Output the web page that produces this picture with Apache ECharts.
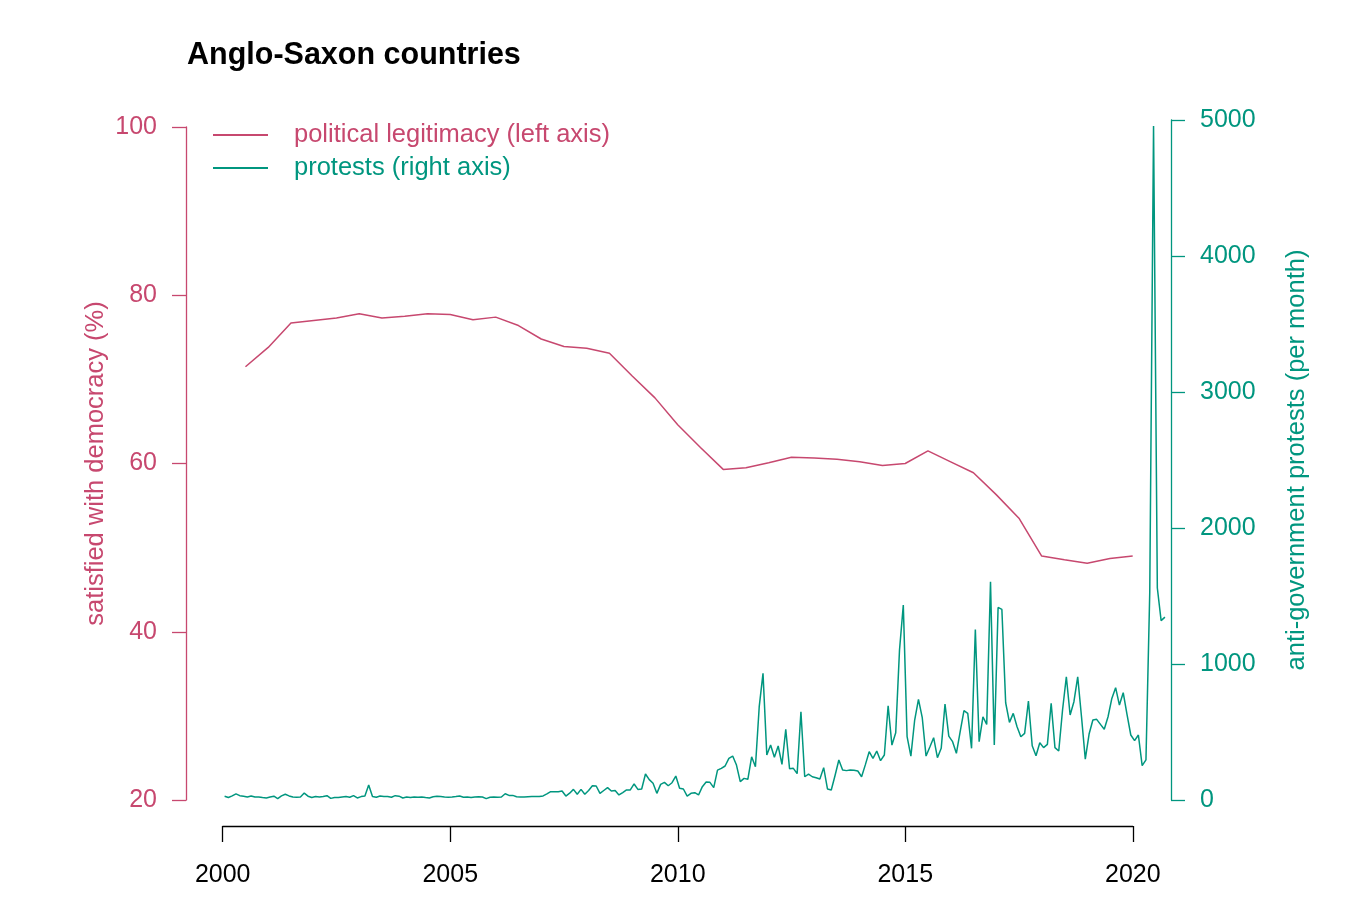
<!DOCTYPE html>
<html>
<head>
<meta charset="utf-8">
<script src="https://cdn.jsdelivr.net/npm/echarts@6/dist/echarts.min.js"></script>
<style>
html,body{margin:0;padding:0;background:#fff;}
#chart{width:1352px;height:902px;}
</style>
</head>
<body>
<div id="chart"></div>
<script>
// ---- data ----
var titleText = 'Anglo-Saxon countries';
var legitimacyYears = [2000.5,2001,2001.5,2002,2002.5,2003,2003.5,2004,2004.5,2005,2005.5,2006,2006.5,2007,2007.5,2008,2008.5,2009,2009.5,2010,2010.5,2011,2011.5,2012,2012.5,2013,2013.5,2014,2014.5,2015,2015.5,2016,2016.5,2017,2017.5,2018,2018.5,2019,2019.5,2020];
var legitimacyValues = [71.5,73.8,76.7,77.0,77.3,77.8,77.3,77.5,77.8,77.7,77.1,77.4,76.4,74.8,73.9,73.7,73.1,70.4,67.8,64.6,61.9,59.3,59.5,60.1,60.75,60.65,60.5,60.2,59.75,60.0,61.5,60.2,58.9,56.3,53.5,49.0,48.55,48.15,48.7,49.0];
var protestStart = {year: 2000, month: 1}; // monthly, Jan 2000 - Sep 2020
var protestValues = [
28,18,30,45,32,28,22,30,22,22,18,15,
22,28,10,30,42,30,22,20,22,51,28,18,
25,22,25,32,12,18,18,22,25,20,32,15,
25,30,110,25,20,30,25,25,20,32,28,15,
22,18,22,20,22,18,15,24,28,25,22,20,
22,25,29,20,22,18,22,24,22,10,20,22,
20,22,46,34,34,24,22,22,24,25,25,25,
30,45,61,60,61,66,29,50,78,42,78,42,
70,105,103,49,70,91,66,69,37,55,74,74,
118,78,81,191,150,123,49,115,130,105,127,176,
86,81,29,49,54,37,98,132,130,91,220,233,
250,306,323,257,135,159,152,318,245,686,931,331,
404,314,397,262,519,230,233,194,649,171,191,171,
164,154,238,81,74,180,294,220,216,220,218,213,
171,260,355,306,360,289,331,693,404,495,1103,1433,
466,323,588,740,605,323,390,458,311,380,706,470,
429,343,502,657,637,380,1254,429,612,556,1605,404,
1416,1401,715,571,637,539,465,490,728,399,326,421,
385,409,711,385,360,662,906,625,723,906,612,301,
485,588,593,556,520,612,747,826,698,789,630,478,
436,478,253,295,1526,4955,1559,1319,1345
];
var leftTicks = [20,40,60,80,100];
var rightTicks = [0,1000,2000,3000,4000,5000];
var xTicks = [2000,2005,2010,2015,2020];
var seriesNames = ['political legitimacy (left axis)', 'protests (right axis)'];
var leftAxisTitle = 'satisfied with democracy (%)';
var rightAxisTitle = 'anti-government protests (per month)';

// ---- colours ----
var pink = '#C7486F';
var teal = '#00967F';
var font = 'Liberation Sans, Arial, Helvetica, sans-serif';

var legitimacyData = legitimacyYears.map(function(y, i){ return [y, legitimacyValues[i]]; });
var protestData = protestValues.map(function(v, i){
  var t = protestStart.year + (protestStart.month - 1 + i + 0.5) / 12;
  return [t, v];
});
function plain(v){ return String(v); }

var xMin = 1999.193, xMax = 2020.842;

var chart = echarts.init(document.getElementById('chart'), null, {renderer: 'canvas'});
chart.setOption({
  animation: false,
  backgroundColor: '#ffffff',
  title: {
    text: titleText, left: 182, top: 35, padding: 5,
    textStyle: {fontFamily: font, fontWeight: 'bold', fontSize: 30.5, color: '#000'}
  },
  legend: {
    orient: 'vertical', left: 213, top: 122, padding: 0, itemGap: 7,
    itemWidth: 55, itemHeight: 2, icon: 'rect',
    textStyle: {fontFamily: font, fontSize: 25.5, padding: [0, 0, 0, 21]},
    data: [
      {name: seriesNames[0], textStyle: {color: pink}},
      {name: seriesNames[1], textStyle: {color: teal}}
    ]
  },
  grid: [
    {left: 186, right: 181, top: 127, bottom: 102, containLabel: false},
    {left: 186, right: 181, top: 120, bottom: 102, containLabel: false},
    {left: 222.7, right: 219.2, top: 825, height: 1, containLabel: false}
  ],
  xAxis: [
    {type: 'value', gridIndex: 0, min: xMin, max: xMax, show: false},
    {type: 'value', gridIndex: 1, min: xMin, max: xMax, show: false},
    {type: 'value', gridIndex: 2, min: xTicks[0], max: xTicks[xTicks.length-1], interval: 5,
      position: 'bottom',
      axisLine: {show: true, lineStyle: {color: '#000', width: 1.3}},
      axisTick: {show: true, inside: false, length: 16, lineStyle: {color: '#000', width: 1.3}},
      axisLabel: {show: true, margin: 37, fontFamily: font, fontSize: 25, color: '#000', formatter: plain},
      splitLine: {show: false}}
  ],
  yAxis: [
    {type: 'value', gridIndex: 0, position: 'left', min: leftTicks[0], max: leftTicks[leftTicks.length-1], interval: 20,
      name: leftAxisTitle, nameLocation: 'middle', nameRotate: 90, nameGap: 77, nameMoveOverlap: false,
      nameTextStyle: {fontFamily: font, fontSize: 25.5, color: pink},
      axisLine: {show: true, lineStyle: {color: pink, width: 1.3}},
      axisTick: {show: true, inside: false, length: 14, lineStyle: {color: pink, width: 1.3}},
      axisLabel: {show: true, margin: 29, fontFamily: font, fontSize: 25, color: pink, formatter: plain},
      splitLine: {show: false}},
    {type: 'value', gridIndex: 1, position: 'right', min: rightTicks[0], max: rightTicks[rightTicks.length-1], interval: 1000,
      name: rightAxisTitle, nameLocation: 'middle', nameRotate: 90, nameGap: 113,
      nameTextStyle: {fontFamily: font, fontSize: 25.5, color: teal},
      axisLine: {show: true, lineStyle: {color: teal, width: 1.3}},
      axisTick: {show: true, inside: false, length: 14, lineStyle: {color: teal, width: 1.3}},
      axisLabel: {show: true, margin: 29, fontFamily: font, fontSize: 25, color: teal, formatter: plain},
      splitLine: {show: false}},
    {type: 'value', gridIndex: 2, show: false, min: 0, max: 1}
  ],
  series: [
    {name: seriesNames[0], type: 'line', xAxisIndex: 0, yAxisIndex: 0, data: legitimacyData,
      showSymbol: false, symbol: 'none', lineStyle: {color: pink, width: 1.5}, itemStyle: {color: pink}, clip: false},
    {name: seriesNames[1], type: 'line', xAxisIndex: 1, yAxisIndex: 1, data: protestData,
      showSymbol: false, symbol: 'none', lineStyle: {color: teal, width: 1.5}, itemStyle: {color: teal}, clip: false}
  ]
});
</script>
</body>
</html>
